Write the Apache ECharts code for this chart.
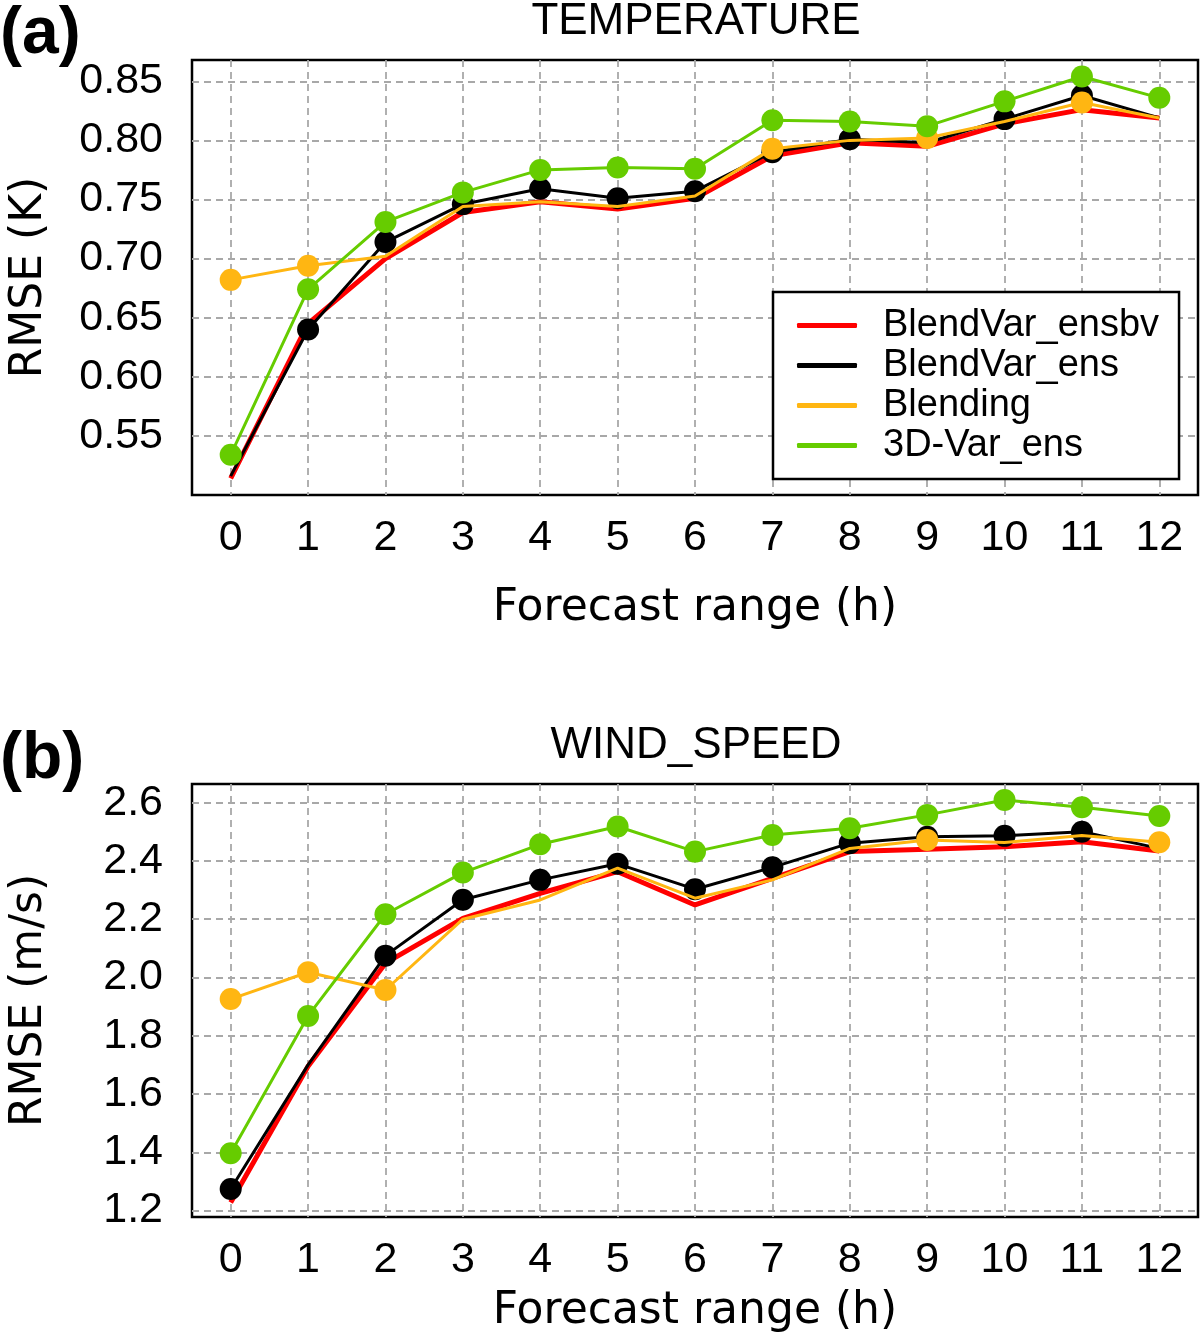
<!DOCTYPE html>
<html>
<head>
<meta charset="utf-8">
<script src="https://cdn.jsdelivr.net/npm/echarts@6/dist/echarts.min.js"></script>
<style>
  html, body { margin: 0; padding: 0; background: #fff; }
  #main { width: 1200px; height: 1335px; }
</style>
</head>
<body>
<div id="main"></div>
<script>
// forecast hours
var hours = ['0', '1', '2', '3', '4', '5', '6', '7', '8', '9', '10', '11', '12'];
var names = ['BlendVar_ensbv', 'BlendVar_ens', 'Blending', '3D-Var_ens'];

// y tick values
var tempTicks = [0.55, 0.60, 0.65, 0.70, 0.75, 0.80, 0.85];
var windTicks = [1.2, 1.4, 1.6, 1.8, 2.0, 2.2, 2.4, 2.6];

// (a) temperature RMSE (K)
var tempEnsbv = [0.514, 0.645, 0.700, 0.739, 0.748, 0.742, 0.751, 0.787, 0.798, 0.795, 0.814, 0.826, 0.819];
var tempEns = [0.516, 0.640, 0.714, 0.746, 0.759, 0.751, 0.757, 0.790, 0.801, 0.798, 0.818, 0.838, 0.819];
var tempBlending = [0.682, 0.694, 0.702, 0.744, 0.748, 0.744, 0.753, 0.793, 0.800, 0.802, 0.816, 0.832, 0.819];
var temp3dvar = [0.534, 0.674, 0.731, 0.756, 0.775, 0.777, 0.776, 0.817, 0.816, 0.812, 0.833, 0.854, 0.836];

// (b) wind speed RMSE (m/s)
var windEnsbv = [1.228, 1.695, 2.049, 2.203, 2.289, 2.363, 2.249, 2.340, 2.432, 2.440, 2.449, 2.466, 2.434];
var windEns = [1.274, 1.700, 2.075, 2.267, 2.335, 2.390, 2.303, 2.378, 2.461, 2.483, 2.486, 2.500, 2.443];
var windBlending = [1.926, 2.018, 1.957, 2.200, 2.266, 2.375, 2.272, 2.335, 2.443, 2.472, 2.463, 2.487, 2.464];
var wind3dvar = [1.397, 1.868, 2.217, 2.360, 2.457, 2.518, 2.432, 2.489, 2.512, 2.558, 2.609, 2.584, 2.554];

// which points carry a dot (1) and which don't (0)
var tempDotsEnsbv = [0, 0, 0, 0, 0, 0, 0, 0, 0, 0, 0, 0, 0];
var tempDotsEns = [0, 1, 1, 1, 1, 1, 1, 1, 1, 0, 1, 1, 0];
var tempDotsBlending = [1, 1, 0, 0, 0, 0, 0, 1, 0, 1, 0, 1, 0];
var tempDots3dvar = [1, 1, 1, 1, 1, 1, 1, 1, 1, 1, 1, 1, 1];
var windDotsEnsbv = [0, 0, 0, 0, 0, 0, 0, 0, 0, 0, 0, 0, 0];
var windDotsEns = [1, 0, 1, 1, 1, 1, 1, 1, 1, 1, 1, 1, 0];
var windDotsBlending = [1, 1, 1, 0, 0, 0, 0, 0, 0, 1, 0, 0, 1];
var windDots3dvar = [1, 1, 1, 1, 1, 1, 1, 1, 1, 1, 1, 1, 1];

var colors = ['#ff0000', '#000000', '#ffb612', '#66cc00'];
var widths = [5, 3, 3, 3];

var numFont = 'Liberation Sans';
var nameFont = 'DejaVu Sans';
var gridLine = { color: '#a8a8a8', width: 1.8, type: [7, 5] };

function makeSeries(idx, values, dots, axisIdx) {
	var data = values.map(function(v, i) {
		return dots[i] ? { value: v } : { value: v, symbol: 'none' };
	});
	return {
		name: names[idx],
		type: 'line',
		xAxisIndex: axisIdx,
		yAxisIndex: axisIdx,
		data: data,
		symbol: 'circle',
		symbolSize: 22,
		showAllSymbol: true,
		color: colors[idx],
		lineStyle: { color: colors[idx], width: widths[idx] },
		itemStyle: { color: colors[idx], borderWidth: 0 },
		z: 2 + idx
	};
}

function xAxis(gridIdx, gap) {
	return {
		type: 'category',
		gridIndex: gridIdx,
		data: hours,
		boundaryGap: true,
		axisLine: { show: false },
		axisTick: { show: false },
		axisLabel: { fontSize: 43, fontFamily: numFont, color: '#000', margin: 22 },
		splitLine: { show: true, alignWithLabel: true, lineStyle: gridLine },
		name: 'Forecast range (h)',
		nameLocation: 'middle',
		nameGap: gap,
		nameTextStyle: { fontSize: 44, fontFamily: nameFont, color: '#000' }
	};
}

function yAxis(gridIdx, min, max, ticks, digits, title) {
	return {
		type: 'value',
		gridIndex: gridIdx,
		min: min,
		max: max,
		axisLine: { show: false },
		axisTick: { show: false, customValues: ticks },
		axisLabel: {
			customValues: ticks,
			fontSize: 43, fontFamily: numFont, color: '#000', margin: 29,
			formatter: function(v) { return v.toFixed(digits); }
		},
		splitLine: { show: true, lineStyle: gridLine },
		name: title,
		nameLocation: 'middle',
		nameRotate: 90,
		nameGap: 140,
		nameTextStyle: { fontSize: 44, fontFamily: nameFont, color: '#000' }
	};
}

var chart = echarts.init(document.getElementById('main'), null, { renderer: 'canvas' });

chart.setOption({
	animation: false,
	backgroundColor: '#fff',
	title: [
		{ text: 'TEMPERATURE', left: 691, top: -5, textAlign: 'center',
			textStyle: { fontSize: 44, fontWeight: 'normal', fontFamily: numFont, color: '#000' } },
		{ text: 'WIND_SPEED', left: 691, top: 719, textAlign: 'center',
			textStyle: { fontSize: 44, fontWeight: 'normal', fontFamily: numFont, color: '#000' } }
	],
	graphic: [
		{ type: 'text', left: 0, top: 2, style: { text: '(a)', font: 'bold 66px "Liberation Sans"', fill: '#000' } },
		{ type: 'text', left: 0, top: 727, style: { text: '(b)', font: 'bold 66px "Liberation Sans"', fill: '#000' } }
	],
	legend: {
		data: names,
		orient: 'vertical',
		left: 773,
		top: 292,
		icon: 'roundRect',
		itemWidth: 60,
		itemHeight: 5,
		itemGap: 1,
		padding: [14, 20, 14, 24],
		borderColor: '#000',
		borderWidth: 2.5,
		borderRadius: 0,
		backgroundColor: '#fff',
		z: 20,
		textStyle: { fontSize: 38, lineHeight: 39, fontFamily: numFont, color: '#000', padding: [0, 0, 0, 21] }
	},
	grid: [
		{ left: 192, right: 2, top: 60, height: 435, show: true, borderColor: '#000', borderWidth: 2.5, backgroundColor: 'transparent' },
		{ left: 192, right: 2, top: 784, height: 435, show: true, borderColor: '#000', borderWidth: 2.5, backgroundColor: 'transparent' }
	],
	xAxis: [xAxis(0, 92), xAxis(1, 73)],
	yAxis: [
		yAxis(0, 0.5, 0.868, tempTicks, 2, 'RMSE (K)'),
		yAxis(1, 1.178, 2.664, windTicks, 1, 'RMSE (m/s)')
	],
	series: [
		makeSeries(0, tempEnsbv, tempDotsEnsbv, 0),
		makeSeries(1, tempEns, tempDotsEns, 0),
		makeSeries(2, tempBlending, tempDotsBlending, 0),
		makeSeries(3, temp3dvar, tempDots3dvar, 0),
		makeSeries(0, windEnsbv, windDotsEnsbv, 1),
		makeSeries(1, windEns, windDotsEns, 1),
		makeSeries(2, windBlending, windDotsBlending, 1),
		makeSeries(3, wind3dvar, windDots3dvar, 1)
	]
});
</script>
</body>
</html>
